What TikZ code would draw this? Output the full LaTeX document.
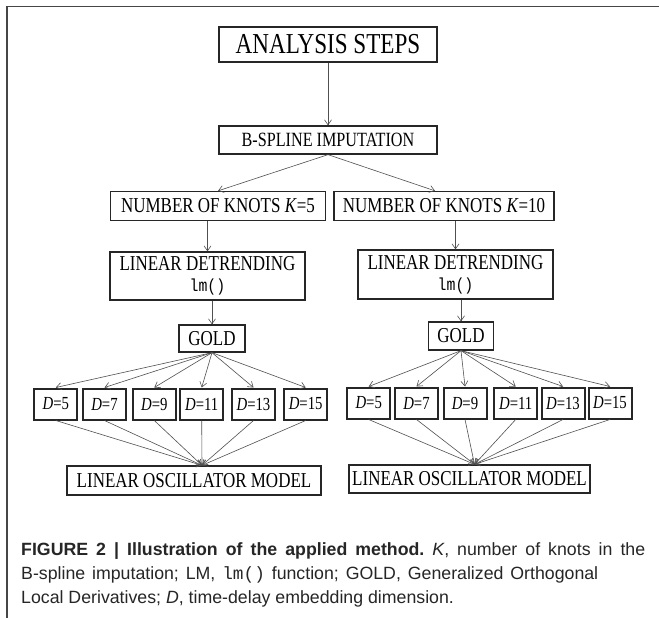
\documentclass[tikz,border=0pt]{standalone}
\usepackage{fontspec}
\setmainfont{Liberation Serif}
\newfontfamily\boxfont[FakeStretch=0.8]{Liberation Serif}
\newfontfamily\codefont[FakeStretch=0.85]{Liberation Mono}
\newfontfamily\capfont{Liberation Sans}
\newfontfamily\capcode{Liberation Mono}
\definecolor{frameGray}{RGB}{70,70,70}
\definecolor{arrGray}{RGB}{80,80,80}
\usetikzlibrary{arrows.meta,positioning,calc}
\frenchspacing

\begin{document}
\begin{tikzpicture}[x=1bp, y=-1bp,
  box/.style={draw=black!85, line width=1.3bp, inner sep=0pt,
              font=\boxfont\fontsize{21.3}{21}\selectfont},
  dbox/.style={draw=black!85, line width=2bp, minimum width=43bp,
               minimum height=31bp, inner sep=0pt,
               font=\boxfont\fontsize{18.5}{20}\selectfont},
  arr/.style={-{Straight Barb[length=5bp,width=7bp]}, line width=0.6bp, arrGray},
  captxt/.style={anchor=base west, inner sep=0pt,
                 font=\capfont\fontsize{17.8}{24}\selectfont, text=black!85}
]
  \fill[white] (0,0) rectangle (659,618);
  \useasboundingbox (0,0) rectangle (659,618);
  \draw[frameGray, line width=1.2bp] (7,618) -- (7,6.5) -- (659,6.5);

  % top of the tree
  \node[box, minimum width=218bp, minimum height=35bp,
        font=\boxfont\fontsize{29}{30}\selectfont] (steps) at (328,44.5) {ANALYSIS STEPS};
  \node[box, minimum width=218bp, minimum height=28bp,
        font=\boxfont\fontsize{20.3}{22}\selectfont] (bspline) at (328,140) {B-SPLINE IMPUTATION};
  \node[box, minimum width=215bp, minimum height=29bp] (knots5) at (218,206) {NUMBER OF KNOTS \textit{K}=5};
  \node[box, minimum width=220bp, minimum height=29bp] (knots10) at (444,206) {NUMBER OF KNOTS \textit{K}=10};

  % two branches
  \node[box, minimum width=195bp, minimum height=48bp, align=center] (detr5) at (207.5,276)
    {LINEAR DETRENDING\\{\codefont\fontsize{17.5}{19}\selectfont lm()}};
  \node[box, minimum width=195bp, minimum height=49bp, align=center] (detr10) at (455.5,274.5)
    {LINEAR DETRENDING\\{\codefont\fontsize{17.5}{19}\selectfont lm()}};
  \node[box, minimum width=66bp, minimum height=27bp] (gold5) at (212,338.5) {GOLD};
  \node[box, minimum width=65bp, minimum height=28bp] (gold10) at (461,336) {GOLD};

  \foreach \d/\px in {5/55.8, 7/104.5, 9/154.3, 11/201.7, 13/253.5, 15/305.7}
    \node[dbox] (dl\d) at (\px,404) {\textit{D}=\d};
  \foreach \d/\px in {5/368.7, 7/416.5, 9/465, 11/515.7, 13/563, 15/610}
    \node[dbox] (dr\d) at (\px,403) {\textit{D}=\d};

  \node[box, minimum width=254bp, minimum height=29bp] (osc5) at (194,480.5) {LINEAR OSCILLATOR MODEL};
  \node[box, minimum width=241bp, minimum height=28bp] (osc10) at (469.5,479) {LINEAR OSCILLATOR MODEL};
  \coordinate (in5) at ([xshift=8bp]osc5.north);
  \coordinate (in10) at ([xshift=5bp]osc10.north);

  % connectors
  \draw[arr] (steps) -- (bspline);
  \draw[arr] (bspline.south) -- (knots5.north);
  \draw[arr] (bspline.south) -- ([xshift=-9bp]knots10.north);
  \draw[arr] (knots5.south -| detr5) -- (detr5);
  \draw[arr] (knots10.south -| detr10) -- (detr10);
  \draw[arr] (detr5.south -| gold5) -- (gold5);
  \draw[arr] (detr10.south -| gold10) -- (gold10);
  \foreach \d in {5,7,...,15} {
    \draw[arr] (gold5.south) -- (dl\d.north);
    \draw[arr] (dl\d.south) -- (in5);
    \draw[arr] (gold10.south) -- (dr\d.north);
    \draw[arr] (dr\d.south) -- (in10);
  }

  % caption
  \node[captxt] (cap1) at (21,555)
    {\hbox to 624bp{\textbf{FIGURE 2 | Illustration of the applied method.} \textit{K}, number of knots in the}};
  \node[captxt] (cap2) at (21,579)
    {\hbox to 577bp{B-spline imputation; LM, {\capcode lm()} function; GOLD, Generalized Orthogonal}};
  \node[captxt] (cap3) at (21,603)
    {Local Derivatives; \textit{D}, time-delay embedding dimension.};
\end{tikzpicture}
\end{document}
